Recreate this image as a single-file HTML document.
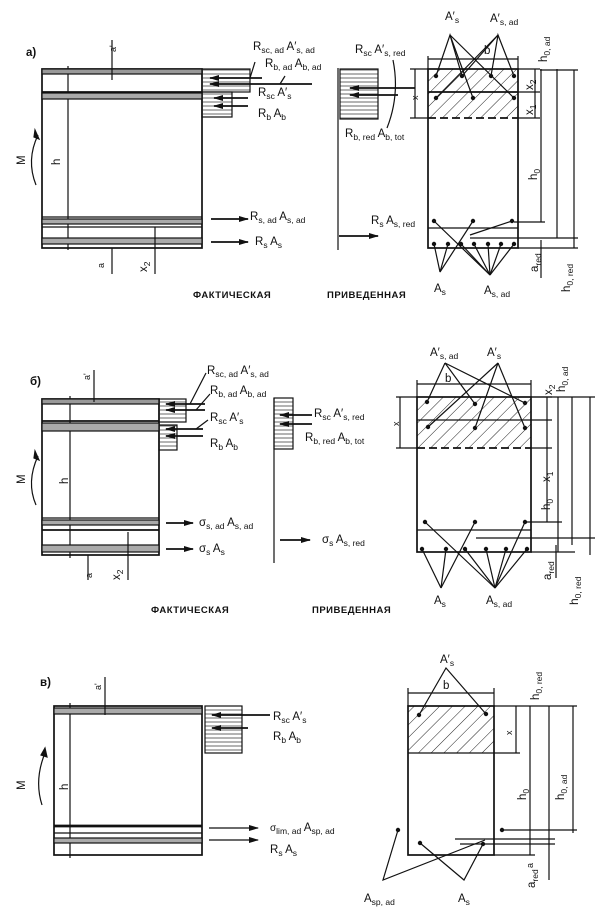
<!DOCTYPE html>
<html><head><meta charset="utf-8"><style>
html,body{margin:0;padding:0;background:#fff}
svg{display:block}
text{font-family:"Liberation Sans","DejaVu Sans",sans-serif;font-size:11.5px;fill:#111}
.s{font-size:8.5px}
.c{font-size:9.5px;font-weight:bold;letter-spacing:0.5px}
line,rect,path,polyline{stroke:#111;stroke-width:1.2;fill:none}
.t{stroke-width:1.7}
</style></head><body>
<svg width="602" height="918" viewBox="0 0 602 918" xmlns="http://www.w3.org/2000/svg">
<defs>
<pattern id="h" width="9" height="9" patternUnits="userSpaceOnUse" patternTransform="rotate(45)">
<line x1="0" y1="0" x2="0" y2="9" style="stroke:#222;stroke-width:1"/></pattern>
<pattern id="hz" width="6" height="4" patternUnits="userSpaceOnUse">
<line x1="0" y1="2" x2="6" y2="2" style="stroke:#444;stroke-width:0.8"/></pattern>
<marker id="ar" markerWidth="10" markerHeight="6" refX="9" refY="3" orient="auto" markerUnits="userSpaceOnUse"><path d="M0,0 L10,3 L0,6 z" style="fill:#111;stroke:none"/></marker>
</defs>

<!-- ===== PANEL A ===== -->
<text x="26" y="56" style="font-weight:bold">а)</text>
<rect x="42" y="69" width="160" height="179" class="t"/>
<line x1="68" y1="66" x2="68" y2="250"/>
<rect x="42" y="69" width="160" height="5" style="fill:#999"/>
<line x1="42" y1="92" x2="202" y2="92" class="t"/><rect x="42" y="93" width="160" height="6" style="fill:#aaa"/>
<line x1="42" y1="217" x2="202" y2="217"/><rect x="42" y="219" width="160" height="5" style="fill:#aaa"/><line x1="42" y1="227" x2="202" y2="227"/>
<rect x="42" y="238" width="160" height="6" style="fill:#aaa"/>
<line x1="112" y1="40" x2="112" y2="80"/><text transform="translate(116,52) rotate(-90)" style="font-size:9px">a'</text>
<line x1="112" y1="248" x2="112" y2="274"/><text transform="translate(104,268) rotate(-90)" style="font-size:9px">a</text>
<line x1="155" y1="227" x2="155" y2="274"/><text transform="translate(147,272) rotate(-90)">x<tspan class="s" dy="3">2</tspan></text>
<text transform="translate(25,165) rotate(-90)">M</text>
<path d="M38,135 Q26,160 36,185"/><path d="M35,130 L39,139 L34,137z" style="fill:#111"/>
<text transform="translate(60,165) rotate(-90)">h</text>
<rect x="202" y="69" width="48" height="23" style="fill:url(#hz)"/>
<rect x="202" y="92" width="30" height="25" style="fill:url(#hz)"/>
<line x1="262" y1="78" x2="210" y2="78" class="t" marker-end="url(#ar)"/>
<line x1="312" y1="84" x2="210" y2="84" class="t" marker-end="url(#ar)"/>
<line x1="248" y1="98" x2="214" y2="98" class="t" marker-end="url(#ar)"/>
<line x1="248" y1="106" x2="214" y2="106" class="t" marker-end="url(#ar)"/>
<line x1="255" y1="62" x2="250" y2="78"/><line x1="285" y1="76" x2="280" y2="84"/>
<text x="253" y="50">R<tspan class="s" dy="3">sc, ad</tspan><tspan dy="-3"> A′</tspan><tspan class="s" dy="3">s, ad</tspan></text>
<text x="265" y="67">R<tspan class="s" dy="3">b, ad</tspan><tspan dy="-3"> A</tspan><tspan class="s" dy="3">b, ad</tspan></text>
<text x="258" y="96">R<tspan class="s" dy="3">sc</tspan><tspan dy="-3"> A′</tspan><tspan class="s" dy="3">s</tspan></text>
<text x="258" y="117">R<tspan class="s" dy="3">b</tspan><tspan dy="-3">  A</tspan><tspan class="s" dy="3">b</tspan></text>
<line x1="211" y1="219" x2="248" y2="219" class="t" marker-end="url(#ar)"/>
<line x1="211" y1="242" x2="248" y2="242" class="t" marker-end="url(#ar)"/>
<text x="250" y="220">R<tspan class="s" dy="3">s, ad</tspan><tspan dy="-3"> A</tspan><tspan class="s" dy="3">s, ad</tspan></text>
<text x="255" y="245">R<tspan class="s" dy="3">s</tspan><tspan dy="-3"> A</tspan><tspan class="s" dy="3">s</tspan></text>
<text x="193" y="298" class="c">ФАКТИЧЕСКАЯ</text>
<text x="327" y="298" class="c">ПРИВЕДЕННАЯ</text>
<line x1="338" y1="68" x2="338" y2="250"/>
<rect x="340" y="69" width="38" height="50" style="fill:url(#hz)"/>
<line x1="415" y1="88" x2="350" y2="88" class="t" marker-end="url(#ar)"/>
<line x1="398" y1="95" x2="350" y2="95" class="t" marker-end="url(#ar)"/>
<path d="M393,60 Q400,95 387,128"/>
<text x="355" y="53">R<tspan class="s" dy="3">sc</tspan><tspan dy="-3"> A′</tspan><tspan class="s" dy="3">s, red</tspan></text>
<text x="345" y="137">R<tspan class="s" dy="3">b, red</tspan><tspan dy="-3"> A</tspan><tspan class="s" dy="3">b, tot</tspan></text>
<text x="371" y="224">R<tspan class="s" dy="3">s</tspan><tspan dy="-3"> A</tspan><tspan class="s" dy="3">s, red</tspan></text>
<line x1="339" y1="236" x2="378" y2="236" class="t" marker-end="url(#ar)"/>
<rect x="428" y="69" width="90" height="49" style="fill:url(#h);stroke:none"/>
<rect x="428" y="69" width="90" height="179" class="t"/>
<line x1="428" y1="92" x2="518" y2="92" class="t"/>
<line x1="428" y1="118" x2="518" y2="118" class="t" style="stroke-dasharray:8 4"/>
<line x1="428" y1="228" x2="518" y2="228"/>
<line x1="428" y1="59" x2="518" y2="59"/><line x1="428" y1="56" x2="428" y2="69"/><line x1="518" y1="56" x2="518" y2="69"/>
<text x="484" y="54">b</text>
<line x1="415" y1="69" x2="415" y2="118"/><line x1="410" y1="69" x2="428" y2="69"/><line x1="410" y1="118" x2="428" y2="118"/>
<text transform="translate(418,100) rotate(-90)" style="font-size:9px">x</text>
<g style="fill:#111">
<circle cx="436" cy="76" r="2.2"/><circle cx="462" cy="76" r="2.2"/><circle cx="491" cy="76" r="2.2"/><circle cx="514" cy="76" r="2.2"/>
<circle cx="436" cy="98" r="2.2"/><circle cx="473" cy="98" r="2.2"/><circle cx="514" cy="98" r="2.2"/>
<circle cx="434" cy="221" r="2.2"/><circle cx="473" cy="221" r="2.2"/><circle cx="512" cy="221" r="2.2"/>
<circle cx="434" cy="244" r="2.2"/><circle cx="448" cy="244" r="2.2"/><circle cx="461" cy="244" r="2.2"/><circle cx="474" cy="244" r="2.2"/><circle cx="488" cy="244" r="2.2"/><circle cx="501" cy="244" r="2.2"/><circle cx="514" cy="244" r="2.2"/>
</g>
<polyline points="436,76 450,35 462,76"/><line x1="450" y1="35" x2="473" y2="98"/><line x1="450" y1="35" x2="514" y2="98"/>
<polyline points="491,76 498,35 514,76"/><line x1="498" y1="35" x2="436" y2="98"/><line x1="498" y1="35" x2="462" y2="76"/>
<polyline points="434,244 440,272 448,244"/><line x1="440" y1="272" x2="473" y2="221"/>
<g><line x1="490" y1="275" x2="461" y2="244"/><line x1="490" y1="275" x2="474" y2="244"/><line x1="490" y1="275" x2="488" y2="244"/><line x1="490" y1="275" x2="501" y2="244"/><line x1="490" y1="275" x2="514" y2="244"/><line x1="490" y1="275" x2="434" y2="221"/><line x1="470" y1="235" x2="512" y2="221"/></g>
<text x="445" y="20">A′<tspan class="s" dy="3">s</tspan></text>
<text x="490" y="22">A′<tspan class="s" dy="3">s, ad</tspan></text>
<text x="434" y="292">A<tspan class="s" dy="3">s</tspan></text>
<text x="484" y="294">A<tspan class="s" dy="3">s, ad</tspan></text>
<line x1="535" y1="69" x2="535" y2="118"/><line x1="518" y1="69" x2="540" y2="69"/><line x1="518" y1="92" x2="540" y2="92"/><line x1="518" y1="118" x2="540" y2="118"/>
<text transform="translate(533,90) rotate(-90)">x<tspan class="s" dy="3">2</tspan></text>
<text transform="translate(533,115) rotate(-90)">x<tspan class="s" dy="3">1</tspan></text>
<line x1="541" y1="69" x2="541" y2="222"/><line x1="514" y1="222" x2="545" y2="222"/>
<text transform="translate(537,180) rotate(-90)">h<tspan class="s" dy="3">0</tspan></text>
<line x1="557" y1="69" x2="557" y2="238"/><line x1="470" y1="238" x2="578" y2="238"/>
<line x1="574" y1="70" x2="574" y2="248"/><line x1="518" y1="248" x2="578" y2="248"/><line x1="540" y1="70" x2="578" y2="70"/>
<line x1="541" y1="240" x2="541" y2="278"/>
<text transform="translate(547,62) rotate(-90)">h<tspan class="s" dy="3">0, ad</tspan></text>
<text transform="translate(538,272) rotate(-90)">a<tspan class="s" dy="3">red</tspan></text>
<text transform="translate(570,292) rotate(-90)">h<tspan class="s" dy="3">0, red</tspan></text>

<!-- ===== PANEL B ===== -->
<text x="30" y="385" style="font-weight:bold">б)</text>
<rect x="42" y="399" width="117" height="156" class="t"/>
<line x1="70" y1="396" x2="70" y2="558"/>
<rect x="42" y="399" width="117" height="5" style="fill:#999"/>
<line x1="42" y1="421" x2="159" y2="421" class="t"/><rect x="42" y="423" width="117" height="8" style="fill:#aaa"/>
<line x1="42" y1="518" x2="159" y2="518"/><rect x="42" y="520" width="117" height="5" style="fill:#aaa"/><line x1="42" y1="530" x2="159" y2="530" class="t"/>
<rect x="42" y="545" width="117" height="7" style="fill:#aaa"/>
<line x1="94" y1="370" x2="94" y2="402"/><text transform="translate(90,380) rotate(-90)" style="font-size:9px">a'</text>
<line x1="88" y1="555" x2="88" y2="580"/><text transform="translate(92,578) rotate(-90)" style="font-size:9px">a</text>
<line x1="128" y1="532" x2="128" y2="580"/><text transform="translate(120,580) rotate(-90)">x<tspan class="s" dy="3">2</tspan></text>
<text transform="translate(25,484) rotate(-90)">M</text>
<path d="M38,456 Q26,482 36,505"/><path d="M35,451 L39,460 L34,458z" style="fill:#111"/>
<text transform="translate(68,484) rotate(-90)">h</text>
<rect x="159" y="399" width="27" height="23" style="fill:url(#hz)"/>
<rect x="159" y="425" width="18" height="25" style="fill:url(#hz)"/>
<line x1="205" y1="404" x2="166" y2="404" class="t" marker-end="url(#ar)"/>
<line x1="205" y1="410" x2="166" y2="410" class="t" marker-end="url(#ar)"/>
<line x1="203" y1="429" x2="166" y2="429" class="t" marker-end="url(#ar)"/>
<line x1="203" y1="436" x2="166" y2="436" class="t" marker-end="url(#ar)"/>
<line x1="206" y1="373" x2="190" y2="404"/><line x1="210" y1="394" x2="196" y2="410"/><line x1="208" y1="420" x2="196" y2="429"/>
<text x="207" y="374">R<tspan class="s" dy="3">sc, ad</tspan><tspan dy="-3"> A′</tspan><tspan class="s" dy="3">s, ad</tspan></text>
<text x="210" y="394">R<tspan class="s" dy="3">b, ad</tspan><tspan dy="-3"> A</tspan><tspan class="s" dy="3">b, ad</tspan></text>
<text x="210" y="421">R<tspan class="s" dy="3">sc</tspan><tspan dy="-3"> A′</tspan><tspan class="s" dy="3">s</tspan></text>
<text x="210" y="447">R<tspan class="s" dy="3">b</tspan><tspan dy="-3">  A</tspan><tspan class="s" dy="3">b</tspan></text>
<line x1="166" y1="523" x2="193" y2="523" class="t" marker-end="url(#ar)"/>
<line x1="166" y1="549" x2="193" y2="549" class="t" marker-end="url(#ar)"/>
<text x="199" y="526">σ<tspan class="s" dy="3">s, ad</tspan><tspan dy="-3"> A</tspan><tspan class="s" dy="3">s, ad</tspan></text>
<text x="199" y="552">σ<tspan class="s" dy="3">s</tspan><tspan dy="-3"> A</tspan><tspan class="s" dy="3">s</tspan></text>
<text x="151" y="613" class="c">ФАКТИЧЕСКАЯ</text>
<text x="312" y="613" class="c">ПРИВЕДЕННАЯ</text>
<line x1="274" y1="398" x2="274" y2="563"/>
<rect x="274" y="398" width="19" height="51" style="fill:url(#hz)"/>
<line x1="312" y1="415" x2="280" y2="415" class="t" marker-end="url(#ar)"/>
<line x1="312" y1="424" x2="280" y2="424" class="t" marker-end="url(#ar)"/>
<text x="314" y="417">R<tspan class="s" dy="3">sc</tspan><tspan dy="-3"> A′</tspan><tspan class="s" dy="3">s, red</tspan></text>
<text x="305" y="441">R<tspan class="s" dy="3">b, red</tspan><tspan dy="-3"> A</tspan><tspan class="s" dy="3">b, tot</tspan></text>
<line x1="280" y1="540" x2="310" y2="540" class="t" marker-end="url(#ar)"/>
<text x="322" y="543">σ<tspan class="s" dy="3">s</tspan><tspan dy="-3"> A</tspan><tspan class="s" dy="3">s, red</tspan></text>
<rect x="417" y="397" width="114" height="51" style="fill:url(#h);stroke:none"/>
<rect x="417" y="397" width="114" height="155" class="t"/>
<line x1="417" y1="420" x2="531" y2="420"/>
<line x1="417" y1="448" x2="531" y2="448" class="t" style="stroke-dasharray:8 4"/>
<line x1="417" y1="530" x2="531" y2="530"/>
<line x1="417" y1="384" x2="531" y2="384"/><line x1="417" y1="380" x2="417" y2="397"/><line x1="531" y1="380" x2="531" y2="397"/>
<text x="445" y="382">b</text>
<line x1="400" y1="397" x2="400" y2="448"/><line x1="396" y1="397" x2="417" y2="397"/><line x1="396" y1="448" x2="417" y2="448"/>
<text transform="translate(399,426) rotate(-90)" style="font-size:9px">x</text>
<g style="fill:#111">
<circle cx="427" cy="402" r="2.2"/><circle cx="475" cy="404" r="2.2"/><circle cx="525" cy="403" r="2.2"/>
<circle cx="428" cy="427" r="2.2"/><circle cx="475" cy="428" r="2.2"/><circle cx="525" cy="428" r="2.2"/>
<circle cx="425" cy="522" r="2.2"/><circle cx="475" cy="522" r="2.2"/><circle cx="525" cy="522" r="2.2"/>
<circle cx="422" cy="549" r="2.2"/><circle cx="446" cy="549" r="2.2"/><circle cx="465" cy="549" r="2.2"/><circle cx="486" cy="549" r="2.2"/><circle cx="506" cy="549" r="2.2"/><circle cx="527" cy="549" r="2.2"/>
</g>
<line x1="445" y1="363" x2="427" y2="402"/><line x1="445" y1="363" x2="475" y2="404"/><line x1="445" y1="363" x2="525" y2="403"/>
<line x1="498" y1="363" x2="428" y2="427"/><line x1="498" y1="363" x2="475" y2="428"/><line x1="498" y1="363" x2="525" y2="428"/>
<line x1="441" y1="588" x2="422" y2="549"/><line x1="441" y1="588" x2="446" y2="549"/><line x1="441" y1="588" x2="475" y2="522"/>
<line x1="495" y1="588" x2="465" y2="549"/><line x1="495" y1="588" x2="486" y2="549"/><line x1="495" y1="588" x2="506" y2="549"/><line x1="495" y1="588" x2="527" y2="549"/><line x1="495" y1="588" x2="425" y2="522"/><line x1="495" y1="588" x2="525" y2="522"/>
<text x="430" y="356">A′<tspan class="s" dy="3">s, ad</tspan></text>
<text x="487" y="356">A′<tspan class="s" dy="3">s</tspan></text>
<text x="434" y="604">A<tspan class="s" dy="3">s</tspan></text>
<text x="486" y="604">A<tspan class="s" dy="3">s, ad</tspan></text>
<line x1="547" y1="397" x2="547" y2="522"/><line x1="531" y1="397" x2="552" y2="397"/><line x1="531" y1="420" x2="552" y2="420"/><line x1="531" y1="448" x2="552" y2="448"/><line x1="525" y1="522" x2="562" y2="522"/>
<text transform="translate(552,395) rotate(-90)">x<tspan class="s" dy="3">2</tspan></text>
<text transform="translate(550,482) rotate(-90)">x<tspan class="s" dy="3">1</tspan></text>
<text transform="translate(550,510) rotate(-90)">h<tspan class="s" dy="3">0</tspan></text>
<line x1="558" y1="397" x2="558" y2="552"/><line x1="476" y1="538" x2="595" y2="538"/>
<line x1="572" y1="397" x2="572" y2="545"/><line x1="590" y1="397" x2="590" y2="555"/>
<line x1="531" y1="397" x2="595" y2="397"/><line x1="531" y1="552" x2="575" y2="552"/>
<line x1="556" y1="545" x2="556" y2="578"/>
<text transform="translate(565,392) rotate(-90)">h<tspan class="s" dy="3">0, ad</tspan></text>
<text transform="translate(551,580) rotate(-90)">a<tspan class="s" dy="3">red</tspan></text>
<text transform="translate(578,605) rotate(-90)" style="font-size:12px">h<tspan class="s" dy="3">0, red</tspan></text>

<!-- ===== PANEL C ===== -->
<text x="40" y="686" style="font-weight:bold">в)</text>
<rect x="54" y="706" width="148" height="149" class="t"/>
<line x1="70" y1="703" x2="70" y2="858"/>
<rect x="54" y="708" width="148" height="6" style="fill:#aaa"/>
<line x1="54" y1="826" x2="202" y2="826" style="stroke-width:2.8"/>
<line x1="54" y1="833" x2="202" y2="833"/>
<rect x="54" y="838" width="148" height="5" style="fill:#aaa"/>
<line x1="105" y1="677" x2="105" y2="715"/><text transform="translate(101,690) rotate(-90)" style="font-size:9px">a'</text>
<text transform="translate(25,790) rotate(-90)">M</text>
<path d="M45,753 Q34,780 42,805"/><path d="M45,748 L47,757 L41,755z" style="fill:#111"/>
<text transform="translate(68,790) rotate(-90)">h</text>
<rect x="205" y="706" width="37" height="47" style="fill:url(#hz)"/>
<line x1="270" y1="715" x2="212" y2="715" class="t" marker-end="url(#ar)"/>
<line x1="248" y1="728" x2="212" y2="728" class="t" marker-end="url(#ar)"/>
<text x="273" y="720">R<tspan class="s" dy="3">sc</tspan><tspan dy="-3"> A′</tspan><tspan class="s" dy="3">s</tspan></text>
<text x="273" y="740">R<tspan class="s" dy="3">b</tspan><tspan dy="-3">  A</tspan><tspan class="s" dy="3">b</tspan></text>
<line x1="209" y1="828" x2="258" y2="828" marker-end="url(#ar)"/>
<line x1="209" y1="840" x2="258" y2="840" marker-end="url(#ar)"/>
<text x="270" y="831" style="font-size:10px">σ<tspan class="s" dy="3">lim, ad</tspan><tspan dy="-3" style="font-size:11.5px"> A</tspan><tspan class="s" dy="3">sp, ad</tspan></text>
<text x="270" y="853">R<tspan class="s" dy="3">s</tspan><tspan dy="-3"> A</tspan><tspan class="s" dy="3">s</tspan></text>
<rect x="408" y="706" width="86" height="47" style="fill:url(#h);stroke:none"/>
<rect x="408" y="706" width="86" height="149" class="t"/>
<line x1="408" y1="753" x2="494" y2="753"/>
<line x1="408" y1="693" x2="494" y2="693"/><line x1="408" y1="688" x2="408" y2="706"/><line x1="494" y1="688" x2="494" y2="706"/>
<text x="443" y="689">b</text>
<g style="fill:#111">
<circle cx="419" cy="715" r="2.2"/><circle cx="486" cy="714" r="2.2"/>
<circle cx="398" cy="830" r="2.2"/><circle cx="420" cy="843" r="2.2"/><circle cx="483" cy="844" r="2.2"/><circle cx="502" cy="830" r="2.2"/>
</g>
<polyline points="419,715 446,668 486,714"/>
<polyline points="398,830 383,880 485,840"/>
<polyline points="420,843 464,880 483,844"/>
<line x1="455" y1="839" x2="555" y2="839"/><line x1="502" y1="830" x2="577" y2="830"/>
<line x1="460" y1="844" x2="555" y2="844"/>
<text x="440" y="663">A′<tspan class="s" dy="3">s</tspan></text>
<text x="364" y="902">A<tspan class="s" dy="3">sp, ad</tspan></text>
<text x="458" y="902">A<tspan class="s" dy="3">s</tspan></text>
<line x1="516" y1="706" x2="516" y2="753"/><line x1="494" y1="753" x2="520" y2="753"/>
<text transform="translate(512,735) rotate(-90)" style="font-size:9px">x</text>
<line x1="530" y1="706" x2="530" y2="855"/><line x1="494" y1="855" x2="535" y2="855"/>
<text transform="translate(526,800) rotate(-90)">h<tspan class="s" dy="3">0</tspan></text>
<line x1="549" y1="706" x2="549" y2="880"/>
<line x1="573" y1="706" x2="573" y2="833"/>
<line x1="494" y1="706" x2="577" y2="706"/>
<text transform="translate(533,868) rotate(-90)" style="font-size:9px">a</text>
<text transform="translate(535,888) rotate(-90)">a<tspan class="s" dy="3">red</tspan></text>
<text transform="translate(539,700) rotate(-90)">h<tspan class="s" dy="3">0, red</tspan></text>
<text transform="translate(564,800) rotate(-90)">h<tspan class="s" dy="3">0, ad</tspan></text>
</svg>
</body></html>
